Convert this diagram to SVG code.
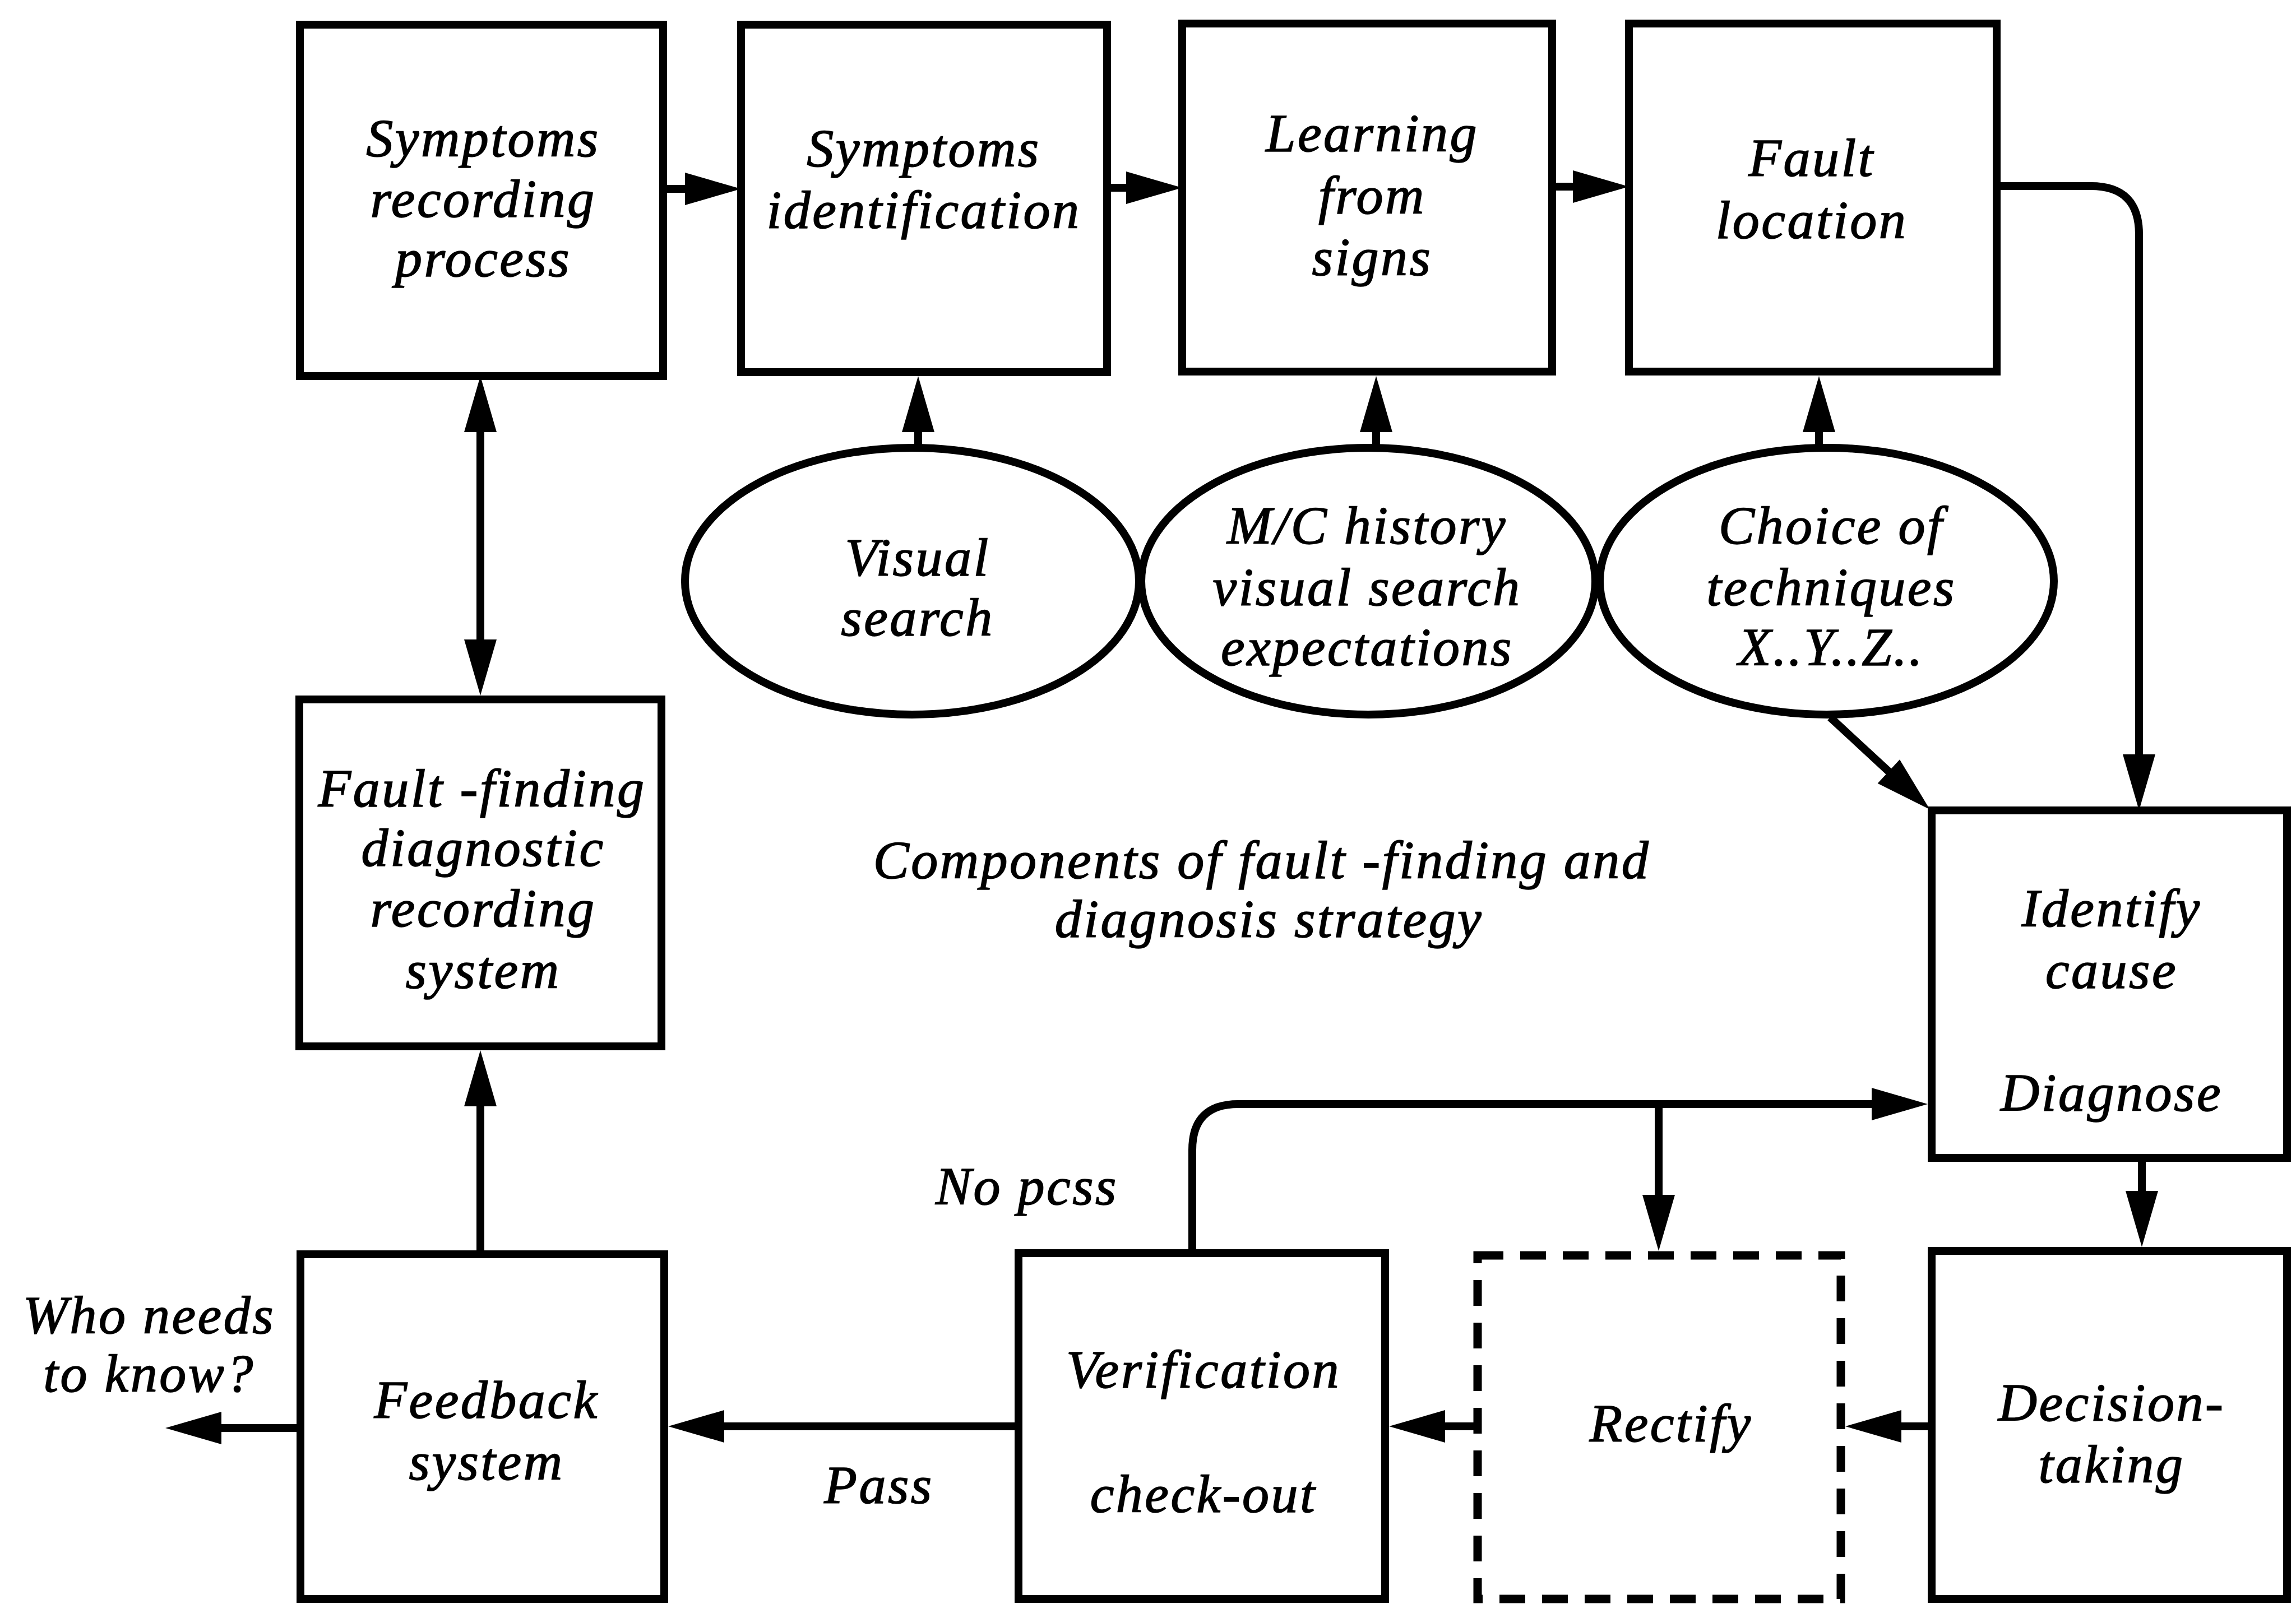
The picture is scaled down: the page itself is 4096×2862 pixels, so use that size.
<svg xmlns="http://www.w3.org/2000/svg" width="4096" height="2862" viewBox="0 0 4096 2862">
  <style>
    .box { fill: #fff; stroke: #000; stroke-width: 14; }
    .dash { fill: #fff; stroke: #000; stroke-width: 15; stroke-dasharray: 46 30; }
    .oval { fill: #fff; stroke: #000; stroke-width: 14; }
    .wire { fill: none; stroke: #000; stroke-width: 14; }
    .arrow { marker-end: url(#head); }
    text { font-family: "Liberation Serif", "Times New Roman", serif; font-style: italic; font-size: 96px; letter-spacing: 3.5px; fill: #000; stroke: #000; stroke-width: 1.6; text-anchor: middle; }
  </style>
  <defs>
    <marker id="head" markerUnits="userSpaceOnUse" markerWidth="100" markerHeight="58" refX="20" refY="29" orient="auto-start-reverse" overflow="visible">
      <path d="M0,0 L100,29 L0,58 Z" fill="#000"/>
    </marker>
  </defs>
  <rect width="4096" height="2862" fill="#fff"/>

  <!-- connectors -->
  <g id="connectors">
    <line class="wire arrow" x1="1183" y1="337" x2="1242" y2="337"/>
    <line class="wire arrow" x1="1975" y1="335" x2="2029" y2="335"/>
    <line class="wire arrow" x1="2769" y1="333" x2="2826" y2="333"/>
    <path class="wire arrow" d="M3562,332 H3730 Q3816,332 3816,418 V1366"/>
    <line class="wire arrow" x1="1638" y1="800" x2="1638" y2="751"/>
    <line class="wire arrow" x1="2455" y1="800" x2="2455" y2="751"/>
    <line class="wire arrow" x1="3245" y1="800" x2="3245" y2="751"/>
    <line class="wire arrow" x1="3265" y1="1280" x2="3384" y2="1390"/>
    <line class="wire arrow" x1="3821" y1="2066" x2="3821" y2="2145"/>
    <line class="wire arrow" x1="3446" y1="2545" x2="3372" y2="2545"/>
    <line class="wire arrow" x1="2636" y1="2545" x2="2558" y2="2545"/>
    <line class="wire arrow" x1="1817" y1="2545" x2="1272" y2="2545"/>
    <line class="wire arrow" x1="536" y1="2548" x2="375" y2="2548"/>
    <line class="wire arrow" x1="857" y1="2238" x2="857" y2="1954"/>
    <line class="wire arrow" x1="857" y1="751" x2="857" y2="1161" marker-start="url(#head)"/>
    <path class="wire arrow" d="M2127,2236 V2052 Q2127,1970 2209,1970 H3359"/>
    <line class="wire arrow" x1="2959" y1="1970" x2="2959" y2="2152"/>
  </g>

  <!-- top row -->
  <g id="symptoms-recording">
    <rect class="box" x="535" y="44" width="648" height="627"/>
    <text x="862" y="279">Symptoms</text>
    <text x="862" y="387">recording</text>
    <text x="862" y="493">process</text>
  </g>
  <g id="symptoms-identification">
    <rect class="box" x="1322" y="44" width="653" height="620"/>
    <text x="1648" y="297">Symptoms</text>
    <text x="1648" y="407">identification</text>
  </g>
  <g id="learning-from-signs">
    <rect class="box" x="2109" y="42" width="660" height="621"/>
    <text x="2448" y="270">Learning</text>
    <text x="2448" y="381">from</text>
    <text x="2448" y="491">signs</text>
  </g>
  <g id="fault-location">
    <rect class="box" x="2906" y="42" width="656" height="621"/>
    <text x="3232" y="314">Fault</text>
    <text x="3232" y="425">location</text>
  </g>

  <!-- ovals -->
  <g id="visual-search">
    <ellipse class="oval" cx="1627" cy="1037" rx="405" ry="238"/>
    <text x="1637" y="1027">Visual</text>
    <text x="1637" y="1134">search</text>
  </g>
  <g id="mc-history">
    <ellipse class="oval" cx="2441" cy="1037" rx="405" ry="238"/>
    <text x="2439" y="970">M/C history</text>
    <text x="2439" y="1080">visual search</text>
    <text x="2439" y="1187">expectations</text>
  </g>
  <g id="choice-of-techniques">
    <ellipse class="oval" cx="3259" cy="1037" rx="405" ry="238"/>
    <text x="3267" y="970">Choice of</text>
    <text x="3267" y="1080">techniques</text>
    <text x="3267" y="1187">X..Y..Z..</text>
  </g>

  <!-- left column -->
  <g id="fault-finding-recording">
    <rect class="box" x="534" y="1248" width="646" height="619"/>
    <text x="860" y="1439">Fault -finding</text>
    <text x="862" y="1545">diagnostic</text>
    <text x="862" y="1653">recording</text>
    <text x="862" y="1763">system</text>
  </g>

  <g id="caption">
    <text x="2251" y="1567">Components of fault -finding and</text>
    <text x="2264" y="1672">diagnosis strategy</text>
  </g>

  <!-- right column -->
  <g id="identify-cause">
    <rect class="box" x="3446" y="1446" width="634" height="620"/>
    <text x="3767" y="1653">Identify</text>
    <text x="3767" y="1763">cause</text>
    <text x="3767" y="1982">Diagnose</text>
  </g>
  <g id="decision-taking">
    <rect class="box" x="3446" y="2232" width="634" height="621"/>
    <text x="3767" y="2535">Decision-</text>
    <text x="3767" y="2645">taking</text>
  </g>

  <!-- bottom row -->
  <g id="rectify">
    <rect class="dash" x="2636" y="2240" width="648" height="613"/>
    <text x="2981" y="2572">Rectify</text>
  </g>
  <g id="verification">
    <rect class="box" x="1817" y="2236" width="654" height="617"/>
    <text x="2147" y="2476">Verification</text>
    <text x="2147" y="2698">check-out</text>
  </g>
  <g id="feedback-system">
    <rect class="box" x="536" y="2238" width="649" height="615"/>
    <text x="868" y="2530">Feedback</text>
    <text x="868" y="2640">system</text>
  </g>

  <!-- connector labels -->
  <g id="labels">
    <text x="1832" y="2149">No pcss</text>
    <text x="1568" y="2682">Pass</text>
    <text x="266" y="2379">Who needs</text>
    <text x="266" y="2483">to know?</text>
  </g>
</svg>
